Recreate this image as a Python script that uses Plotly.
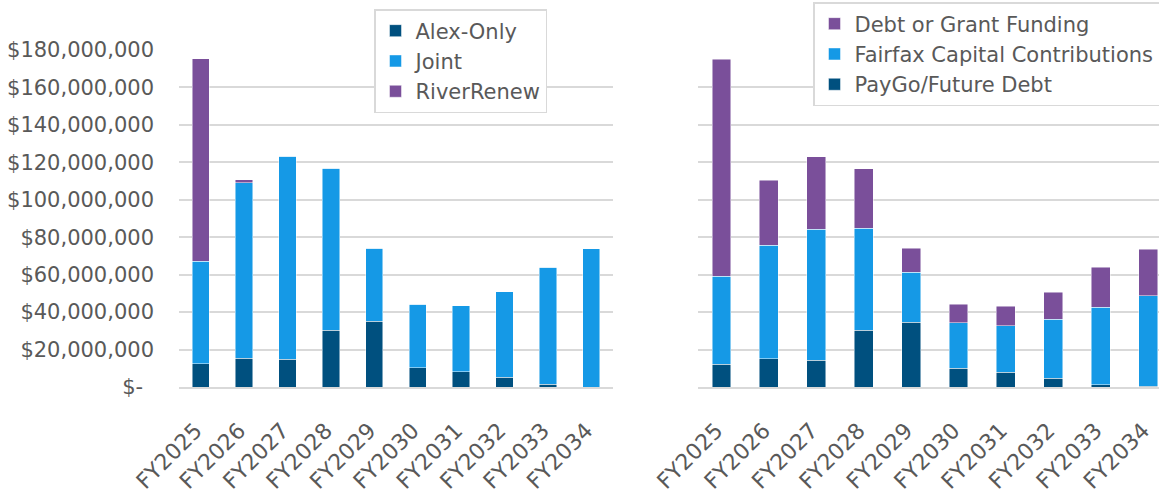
import plotly.graph_objects as go

categories = ["FY2025", "FY2026", "FY2027", "FY2028", "FY2029",
              "FY2030", "FY2031", "FY2032", "FY2033", "FY2034"]

# Left chart (by partner)
alex_only = [12.3e6, 15.3e6, 14.7e6, 30.4e6, 35.0e6, 10.3e6, 8.2e6, 5.1e6, 1.6e6, 0.0]
joint = [54.9e6, 93.7e6, 108.6e6, 86.5e6, 39.2e6, 34.0e6, 35.2e6, 45.8e6, 62.4e6, 73.8e6]
river_renew = [108.1e6, 1.6e6, 0, 0, 0, 0, 0, 0, 0, 0]

# Right chart (by funding source)
paygo_future_debt = [12.1e6, 15.1e6, 14.2e6, 30.2e6, 34.5e6, 10.0e6, 7.8e6, 4.6e6, 1.2e6, 0.3e6]
fairfax_capital = [47.0e6, 60.7e6, 70.1e6, 54.6e6, 26.7e6, 24.2e6, 24.9e6, 31.7e6, 41.5e6, 48.4e6]
debt_or_grant = [115.9e6, 34.7e6, 38.8e6, 31.9e6, 12.8e6, 9.9e6, 10.5e6, 14.2e6, 21.2e6, 24.9e6]

y_tick_vals = [0, 20e6, 40e6, 60e6, 80e6, 100e6, 120e6, 140e6, 160e6, 180e6]
y_tick_text = ["$-\u00a0\u2009", "$20,000,000", "$40,000,000", "$60,000,000", "$80,000,000",
               "$100,000,000", "$120,000,000", "$140,000,000", "$160,000,000", "$180,000,000"]

DARK = "#00507F"
LIGHT = "#1599E6"
PURPLE = "#7A4F9A"
TEXT = "#595959"
GRID = "#D9D9D9"
FONT = "DejaVu Sans"

W, H = 1159, 494
PLOT_TOP, PLOT_BOTTOM = 50, 387

fig = go.Figure()

left = [("Alex-Only", alex_only, DARK), ("Joint", joint, LIGHT), ("RiverRenew", river_renew, PURPLE)]
for name, vals, col in left:
    fig.add_trace(go.Bar(x=categories, y=vals, name=name, width=0.4,
                         marker=dict(color=col, line=dict(color="rgba(255,255,255,0.6)", width=0.8)),
                         xaxis="x", yaxis="y", legend="legend"))

right = [("PayGo/Future Debt", paygo_future_debt, DARK),
         ("Fairfax Capital Contributions", fairfax_capital, LIGHT),
         ("Debt or Grant Funding", debt_or_grant, PURPLE)]
for name, vals, col in right:
    fig.add_trace(go.Bar(x=categories, y=vals, name=name, width=0.4,
                         marker=dict(color=col, line=dict(color="rgba(255,255,255,0.6)", width=0.8)),
                         xaxis="x2", yaxis="y2", legend="legend2"))

ph = PLOT_BOTTOM - PLOT_TOP

xcommon = dict(type="category", tickangle=-45, automargin=False, showgrid=False,
               showline=True, linecolor=GRID, linewidth=2, ticks="",
               tickfont=dict(family=FONT, size=22, color=TEXT),
               ticklabelstandoff=20, ticklabelshift=-5)
ycommon = dict(range=[0, 180e6], tickvals=y_tick_vals, ticktext=y_tick_text,
               showgrid=True, gridcolor=GRID, gridwidth=1.5, zeroline=False,
               automargin=False, showline=False, ticks="",
               tickfont=dict(family=FONT, size=21, color=TEXT))

fig.update_layout(
    width=W, height=H,
    margin=dict(l=0, r=0, t=PLOT_TOP, b=H - PLOT_BOTTOM, autoexpand=False),
    paper_bgcolor="white", plot_bgcolor="white",
    barmode="stack", bargap=0.6,
    font=dict(family=FONT, color=TEXT),
    xaxis=dict(domain=[179 / W, 613 / W], range=[-0.5, 9.5], anchor="y", **xcommon),
    yaxis=dict(domain=[0, 1], anchor="x", ticklabelstandoff=24, **ycommon),
    xaxis2=dict(domain=[697.8 / W, 1.0], range=[-0.5, 9.23], anchor="y2", **xcommon),
    yaxis2=dict(domain=[0, 1], anchor="x2", showticklabels=False, **ycommon),
    legend=dict(x=374 / W, y=(PLOT_BOTTOM - 9) / ph, xanchor="left", yanchor="top",
                bgcolor="white", bordercolor=GRID, borderwidth=1.5, traceorder="normal",
                font=dict(family=FONT, size=21, color=TEXT)),
    legend2=dict(x=813 / W, y=(PLOT_BOTTOM - 2) / ph, xanchor="left", yanchor="top",
                 bgcolor="white", bordercolor=GRID, borderwidth=1.5, traceorder="reversed",
                 font=dict(family=FONT, size=21, color=TEXT)),
    showlegend=True,
)

fig.write_html("out.html")
